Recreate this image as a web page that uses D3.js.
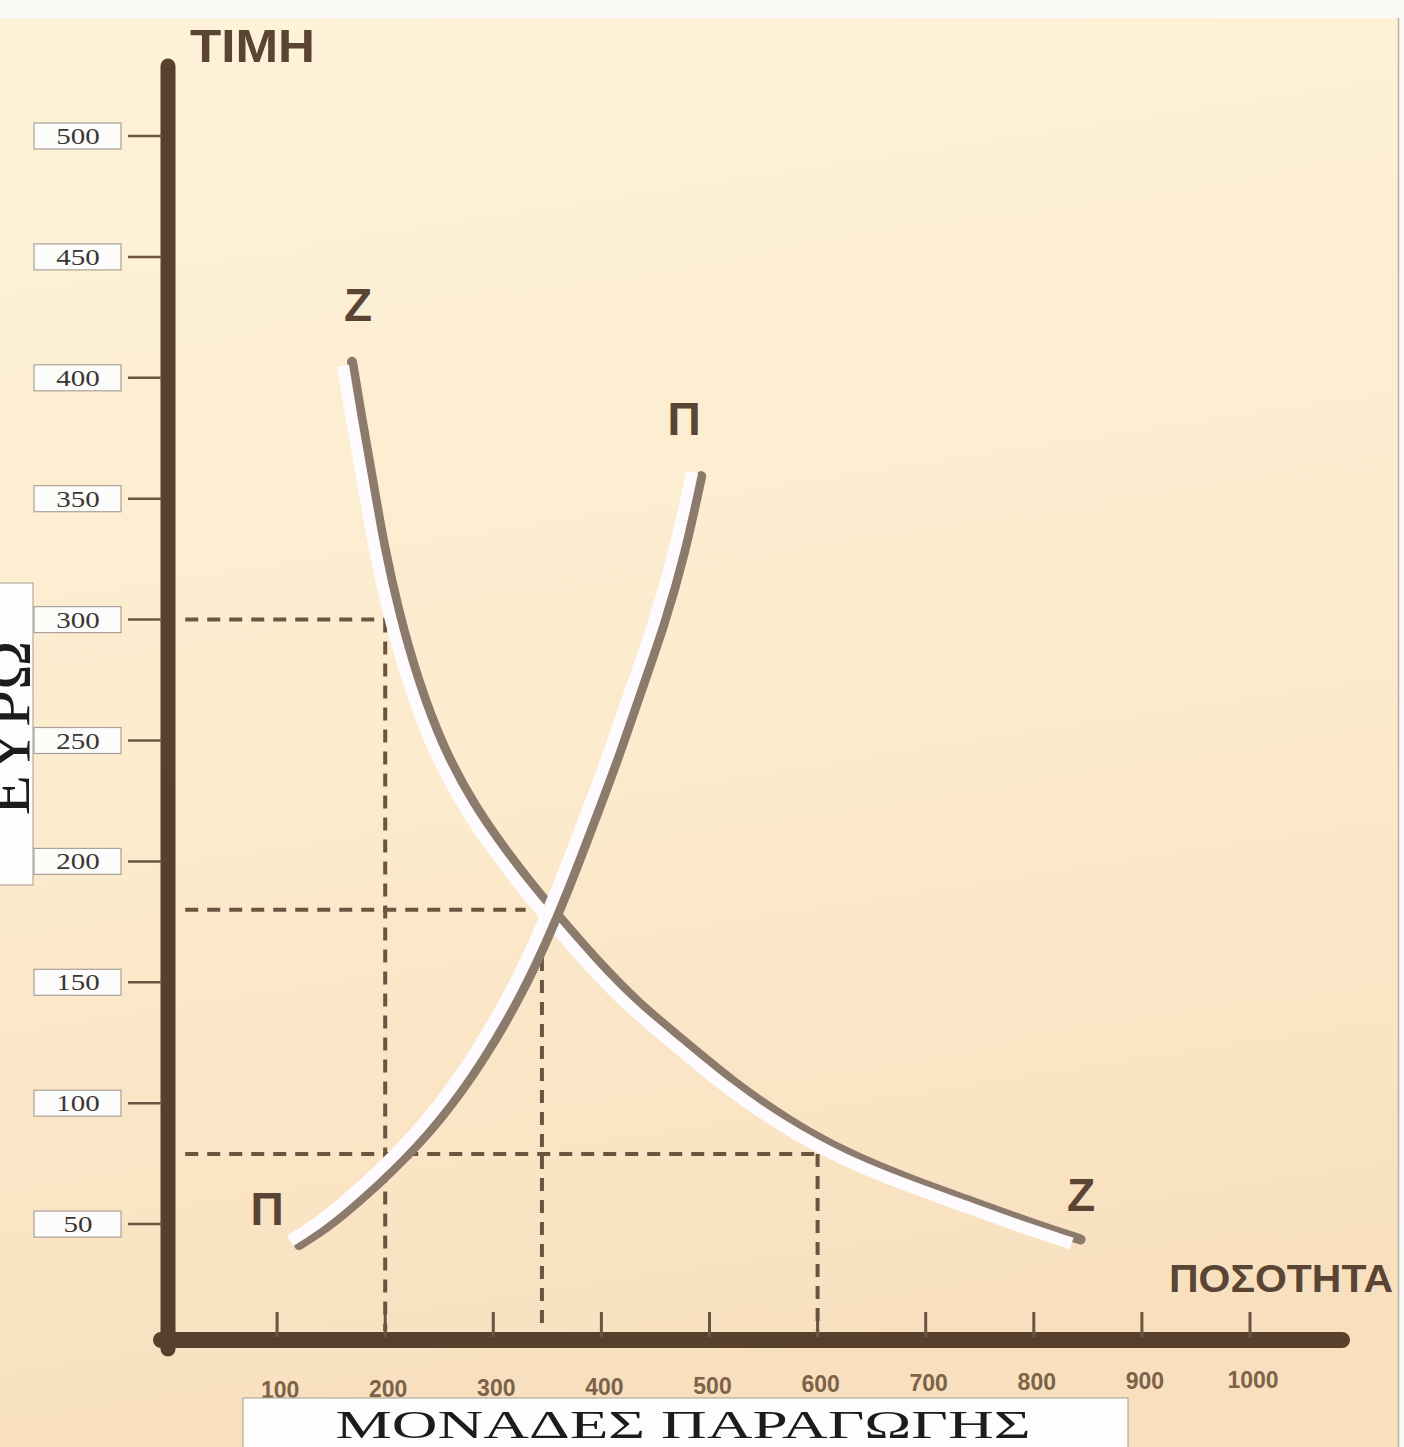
<!DOCTYPE html>
<html>
<head>
<meta charset="utf-8">
<script src="https://cdn.jsdelivr.net/npm/d3@7"></script>
<style>
  html, body { margin: 0; padding: 0; background: #fbfaf7; }
  svg { display: block; }
</style>
</head>
<body>
<script>
// ---------------- DATA ----------------
const xTickValues = [100, 200, 300, 400, 500, 600, 700, 800, 900, 1000];
const yTickValues = [50, 100, 150, 200, 250, 300, 350, 400, 450, 500];
const xTitle = "ΜΟΝΑΔΕΣ ΠΑΡΑΓΩΓΗΣ";
const yTitle = "ΕΥΡΩ";
const yAxisName = "ΤΙΜΗ";
const xAxisName = "ΠΟΣΟΤΗΤΑ";

// Demand curve Ζ (quantity, price)
const demandQ = [161, 169, 179, 190, 204, 221, 244, 274, 306, 332, 359, 390, 427, 468, 516, 568, 621, 676, 732, 787, 835];
const demandP = [405, 383, 358, 329, 301, 274, 246, 221, 201, 186, 172, 156, 139, 124, 106, 90, 77, 67, 58, 49, 42];
// Supply curve Π (quantity, price)
const supplyQ = [112, 140, 167, 199, 242, 285, 319, 340, 360, 383, 406, 428, 450, 468, 484];
const supplyP = [43, 51, 61, 74, 94, 121, 148, 168, 189, 216, 243, 272, 300, 328, 361];

// Dashed guide lines: horizontal (price, up to quantity) and vertical (quantity, from price)
const guidePrices     = [300, 180, 79];
const guideHEndQ      = [200, 330, 600];
const guideQuantities = [200, 345, 600];
const guideVTopP      = [300, 160, 79];

// ---------------- LAYOUT ----------------
const W = 1404, H = 1447;
const svg = d3.select("body").append("svg").attr("width", W).attr("height", H);

const x = d3.scaleLinear().domain([0, 1000]).range([169, 1250]);
const y = d3.scaleLinear().domain([0, 500]).range([1345, 136]);

const defs = svg.append("defs");
const grad = defs.append("linearGradient").attr("id", "bg").attr("x1", 0).attr("y1", 0).attr("x2", 0.15).attr("y2", 1);
grad.append("stop").attr("offset", "0%").attr("stop-color", "#fef2d9");
grad.append("stop").attr("offset", "55%").attr("stop-color", "#fcebcd");
grad.append("stop").attr("offset", "100%").attr("stop-color", "#f8e0bf");

svg.append("rect").attr("x", 0).attr("y", 0).attr("width", W).attr("height", H).attr("fill", "#fbfaf7");
svg.append("rect").attr("x", 0).attr("y", 18).attr("width", 1398).attr("height", H - 18).attr("fill", "url(#bg)");
svg.append("line").attr("x1", 1398.5).attr("x2", 1398.5).attr("y1", 18).attr("y2", H)
  .attr("stroke", "#b9aea3").attr("stroke-width", 1.5);

const axisColor = "#58402c";
const ink = "#5a4535";

// ---------------- DASHED GUIDES ----------------
const guides = svg.append("g").attr("stroke", "#6b5540").attr("stroke-width", 4)
  .attr("stroke-dasharray", "13,9").attr("fill", "none");
guidePrices.forEach((p, i) => {
  guides.append("line")
    .attr("x1", x(15)).attr("x2", x(guideHEndQ[i]))
    .attr("y1", y(p)).attr("y2", y(p));
});
guideQuantities.forEach((q, i) => {
  guides.append("line")
    .attr("x1", x(q)).attr("x2", x(q))
    .attr("y1", y(guideVTopP[i])).attr("y2", y(0) - 14);
});

// ---------------- CURVES ----------------
const line = d3.line().x(d => x(d[0])).y(d => y(d[1])).curve(d3.curveBasis);
const demand = demandQ.map((q, i) => [q, demandP[i]]);
const supply = supplyQ.map((q, i) => [q, supplyP[i]]);

function drawCurve(data, dx, dy) {
  svg.append("path").attr("d", line(data)).attr("fill", "none")
    .attr("stroke", "#8c7a6c").attr("stroke-width", 10).attr("stroke-linecap", "round")
    .attr("transform", `translate(${dx},${dy})`);
  svg.append("path").attr("d", line(data)).attr("fill", "none")
    .attr("stroke", "#fdfbfd").attr("stroke-width", 12).attr("stroke-linecap", "butt");
}
drawCurve(demand, 9, -4);
drawCurve(supply, 9, 4);

// ---------------- AXES ----------------
svg.append("line").attr("x1", 168).attr("x2", 168).attr("y1", 66).attr("y2", y(0) + 4)
  .attr("stroke", axisColor).attr("stroke-width", 15).attr("stroke-linecap", "round");
svg.append("line").attr("x1", 161).attr("x2", 1342).attr("y1", y(0) - 5).attr("y2", y(0) - 5)
  .attr("stroke", axisColor).attr("stroke-width", 16).attr("stroke-linecap", "round");

// Y ticks with boxed labels
const yt = svg.append("g").selectAll("g").data(yTickValues).join("g")
  .attr("transform", d => `translate(0,${y(d)})`);
yt.append("line").attr("x1", 128).attr("x2", 162).attr("y1", 0).attr("y2", 0)
  .attr("stroke", "#6b5540").attr("stroke-width", 2.5);
yt.append("rect").attr("x", 34).attr("y", -13).attr("width", 87).attr("height", 26)
  .attr("fill", "#fcfcfb").attr("stroke", "#aaa198").attr("stroke-width", 1.2);
yt.append("text").attr("x", 78).attr("y", 8).attr("text-anchor", "middle")
  .attr("font-family", "Liberation Serif, serif").attr("font-size", 24).attr("fill", "#3a3636")
  .attr("textLength", d => String(d).length * 14.5).attr("lengthAdjust", "spacingAndGlyphs")
  .text(d => d);

// X ticks
svg.append("g").selectAll("line").data(xTickValues).join("line")
  .attr("x1", d => x(d)).attr("x2", d => x(d))
  .attr("y1", y(0) - 33).attr("y2", y(0) - 8)
  .attr("stroke", "#6b5540").attr("stroke-width", 3);
svg.append("g").selectAll("text").data(xTickValues).join("text")
  .attr("x", d => x(d) + 3)
  .attr("y", d => 1398 - (d - 100) / 900 * 10)
  .attr("text-anchor", "middle")
  .attr("font-family", "Liberation Sans, Arial, sans-serif").attr("font-weight", "bold")
  .attr("font-size", 23).attr("fill", "#7d6249")
  .text(d => d);

// Axis names
svg.append("text").attr("x", 190).attr("y", 62)
  .attr("font-family", "Liberation Sans, Arial, sans-serif").attr("font-weight", "bold")
  .attr("font-size", 46).attr("fill", ink).attr("textLength", 125).attr("lengthAdjust", "spacingAndGlyphs")
  .text(yAxisName);
svg.append("text").attr("x", 1169).attr("y", 1292)
  .attr("font-family", "Liberation Sans, Arial, sans-serif").attr("font-weight", "bold")
  .attr("font-size", 38).attr("fill", ink).attr("textLength", 224).attr("lengthAdjust", "spacingAndGlyphs")
  .text(xAxisName);

// Curve labels
const lbl = (t, px, py) => svg.append("text").attr("x", px).attr("y", py).attr("text-anchor", "middle")
  .attr("font-family", "Liberation Sans, Arial, sans-serif").attr("font-weight", "bold")
  .attr("font-size", 46).attr("fill", ink).text(t);
lbl("Ζ", 358, 321);
lbl("Π", 684, 435);
lbl("Π", 267, 1225);
lbl("Ζ", 1081, 1211);

// X title box
svg.append("rect").attr("x", 243).attr("y", 1398).attr("width", 885).attr("height", 60)
  .attr("fill", "#fdfdfc").attr("stroke", "#b3aaa0").attr("stroke-width", 1.2);
svg.append("text").attr("x", 683).attr("y", 1438).attr("text-anchor", "middle")
  .attr("font-family", "Liberation Serif, serif").attr("font-size", 41).attr("fill", "#1e1b1b")
  .attr("textLength", 695).attr("lengthAdjust", "spacingAndGlyphs")
  .text(xTitle);

// Y title box (rotated, partly clipped by the left edge as in the original)
svg.append("rect").attr("x", -10).attr("y", 583).attr("width", 43).attr("height", 302)
  .attr("fill", "#fdfdfc").attr("stroke", "#b3aaa0").attr("stroke-width", 1.2);
svg.append("text").attr("transform", "translate(29,728) rotate(-90)").attr("text-anchor", "middle")
  .attr("font-family", "Liberation Serif, serif").attr("font-size", 62).attr("fill", "#1e1b1b")
  .attr("textLength", 175).attr("lengthAdjust", "spacingAndGlyphs")
  .text(yTitle);
</script>
</body>
</html>
